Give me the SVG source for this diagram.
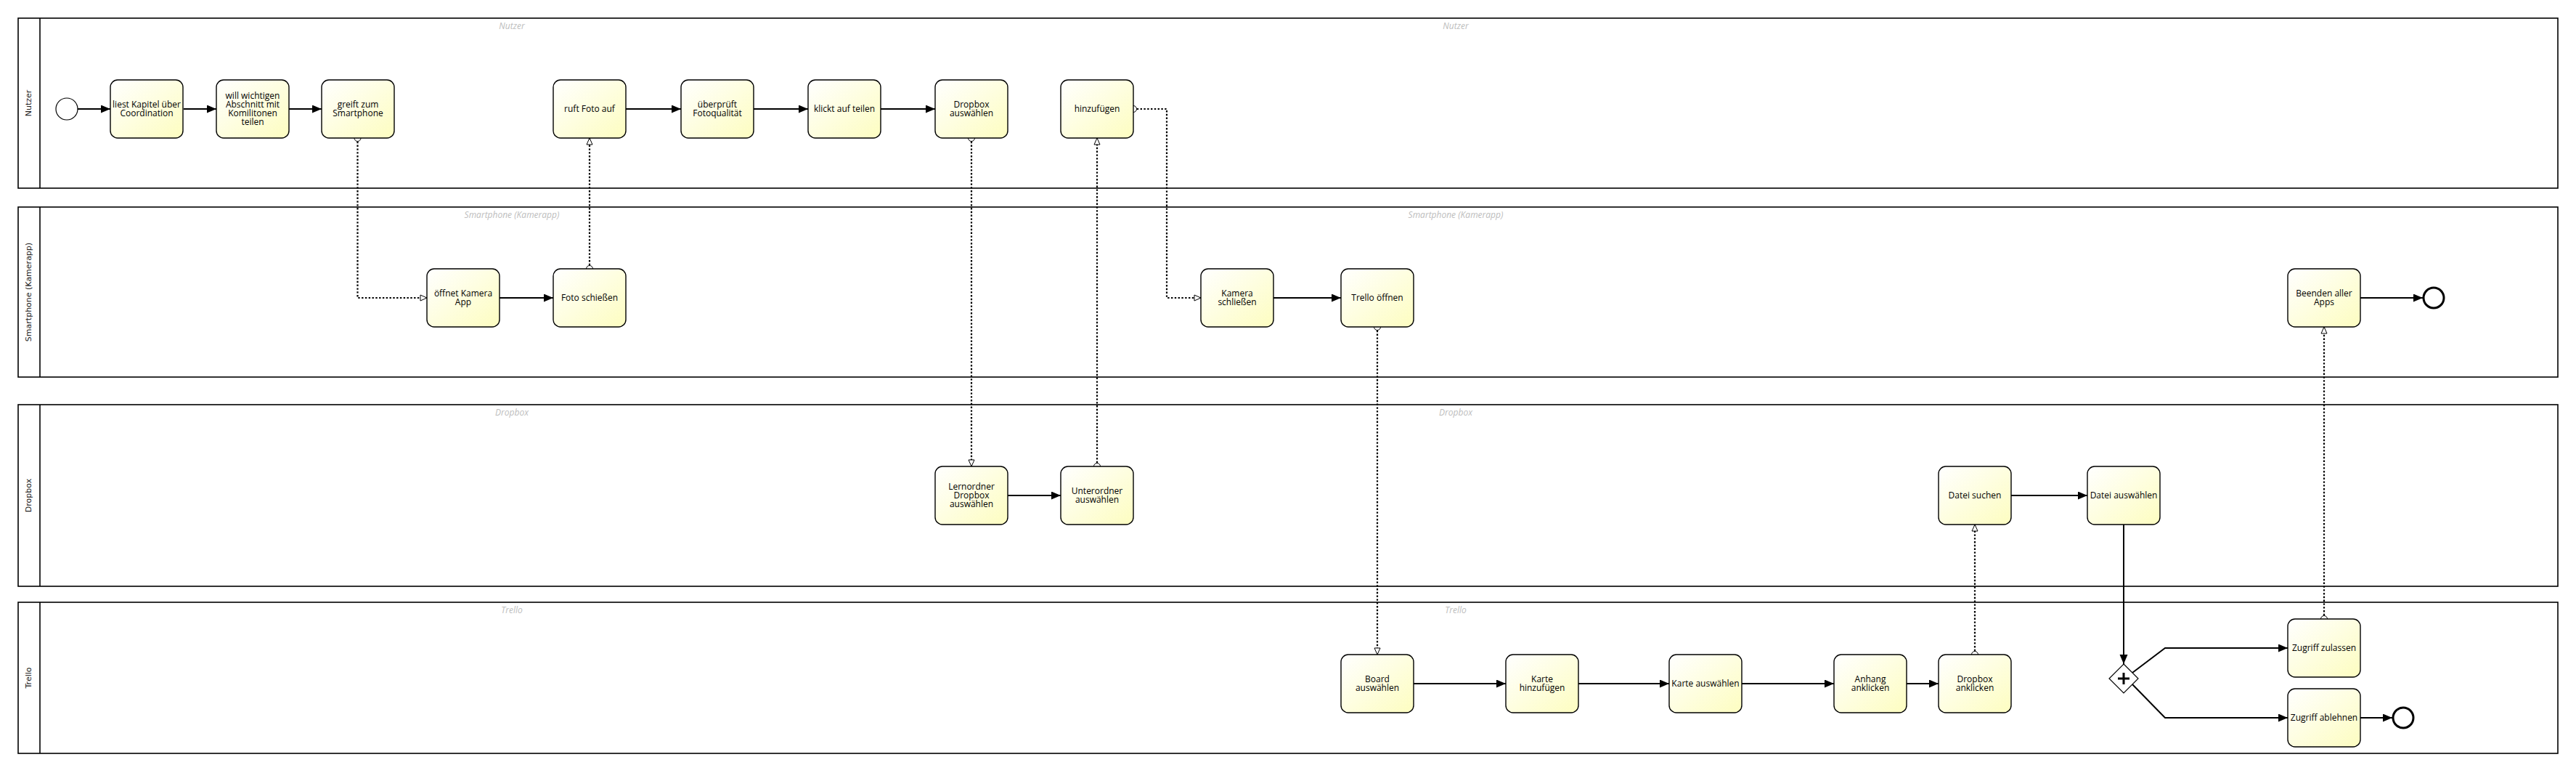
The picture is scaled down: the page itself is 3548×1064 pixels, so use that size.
<svg xmlns="http://www.w3.org/2000/svg" width="3548" height="1064" viewBox="0 0 3548 1064">
<style>
.lane{fill:none;stroke:#000;stroke-width:1.6}
.lh{font-family:"DejaVu Sans",Verdana,sans-serif;font-size:11px;fill:#222;text-anchor:middle}
.ll{font-family:"Open Sans","Liberation Sans",sans-serif;font-size:12px;font-style:italic;fill:#bdbdbd;text-anchor:middle}
.task rect{fill:url(#tg);stroke:#000;stroke-width:1.4}
.task text{font-family:"Open Sans","Liberation Sans",sans-serif;font-size:12px;fill:#000;text-anchor:middle}
.seq{fill:none;stroke:#000;stroke-width:2;marker-end:url(#ah)}
.msg{fill:none;stroke:#000;stroke-width:2.2;stroke-dasharray:2.4 2.4;marker-start:url(#mc);marker-end:url(#mt)}
</style>
<defs>
<linearGradient id="tg" x1="0" y1="0" x2="1" y2="1">
<stop offset="0" stop-color="#ffffff"/>
<stop offset="1" stop-color="#fdfdc0"/>
</linearGradient>
<marker id="ah" markerUnits="userSpaceOnUse" markerWidth="14" markerHeight="12" refX="13" refY="5.5" orient="auto">
<path d="M0,0 L13,5.5 L0,11 z" fill="#000"/>
</marker>
<marker id="mt" markerUnits="userSpaceOnUse" markerWidth="12" markerHeight="12" refX="10" refY="5" orient="auto">
<path d="M1,1 L10,5 L1,9 z" fill="#fff" stroke="#000" stroke-width="1"/>
</marker>
<marker id="mc" markerUnits="userSpaceOnUse" markerWidth="12" markerHeight="12" refX="6" refY="6" orient="auto">
<circle cx="6" cy="6" r="4.5" fill="#fff" stroke="#000" stroke-width="1"/>
</marker>
</defs>
<rect width="3548" height="1064" fill="#fff"/>

<g id="lanes">
<g id="lane-nutzer">
<rect class="lane" x="25" y="25" width="3498" height="234"/>
<line class="lane" x1="55" y1="25" x2="55" y2="259"/>
<text class="lh" transform="translate(43,142) rotate(-90)">Nutzer</text>
<text class="ll" x="705" y="40">Nutzer</text>
<text class="ll" x="2005" y="40">Nutzer</text>
</g>
<g id="lane-smartphone">
<rect class="lane" x="25" y="285" width="3498" height="234"/>
<line class="lane" x1="55" y1="285" x2="55" y2="519"/>
<text class="lh" transform="translate(43,402) rotate(-90)">Smartphone (Kamerapp)</text>
<text class="ll" x="705" y="300">Smartphone (Kamerapp)</text>
<text class="ll" x="2005" y="300">Smartphone (Kamerapp)</text>
</g>
<g id="lane-dropbox">
<rect class="lane" x="25" y="557" width="3498" height="250"/>
<line class="lane" x1="55" y1="557" x2="55" y2="807"/>
<text class="lh" transform="translate(43,682) rotate(-90)">Dropbox</text>
<text class="ll" x="705" y="572">Dropbox</text>
<text class="ll" x="2005" y="572">Dropbox</text>
</g>
<g id="lane-trello">
<rect class="lane" x="25" y="829" width="3498" height="208"/>
<line class="lane" x1="55" y1="829" x2="55" y2="1037"/>
<text class="lh" transform="translate(43,933) rotate(-90)">Trello</text>
<text class="ll" x="705" y="844">Trello</text>
<text class="ll" x="2005" y="844">Trello</text>
</g>
</g>

<g id="connectors">
<path class="seq" d="M107,150 H152"/>
<path class="seq" d="M253,150 H298"/>
<path class="seq" d="M398,150 H443"/>
<path class="seq" d="M862,150 H938"/>
<path class="seq" d="M1038,150 H1113"/>
<path class="seq" d="M1213,150 H1288"/>
<path class="seq" d="M688,410 H762"/>
<path class="seq" d="M1754,410 H1847"/>
<path class="seq" d="M3251,410 H3337"/>
<path class="seq" d="M1388,682 H1461"/>
<path class="seq" d="M2770,682 H2875"/>
<path class="seq" d="M2925,722 V914"/>
<path class="seq" d="M1947,941 H2074"/>
<path class="seq" d="M2174,941 H2299"/>
<path class="seq" d="M2399,941 H2526"/>
<path class="seq" d="M2626,941 H2670"/>
<path class="seq" d="M2937,926 L2982,892 H3151"/>
<path class="seq" d="M2937,942 L2982,988 H3151"/>
<path class="seq" d="M3251,988 H3295"/>

<path class="msg" d="M492.5,190 V410 H588"/>
<path class="msg" d="M812,370 V190"/>
<path class="msg" d="M1338,190 V642"/>
<path class="msg" d="M1511,642 V190"/>
<path class="msg" d="M1561,150 H1607 V410 H1654"/>
<path class="msg" d="M1897,450 V901"/>
<path class="msg" d="M2720,901 V722"/>
<path class="msg" d="M3201,852 V450"/>
</g>

<g id="start"><circle cx="92" cy="150" r="15" fill="#fff" stroke="#000" stroke-width="1.2"/></g>
<g id="end1"><circle cx="3352" cy="410" r="14" fill="#fff" stroke="#000" stroke-width="3"/></g>
<g id="end2"><circle cx="3310" cy="988" r="14" fill="#fff" stroke="#000" stroke-width="3"/></g>
<g id="gateway">
<path d="M2925,914 L2945,934 L2925,954 L2905,934 z" fill="#fff" stroke="#000" stroke-width="1.2"/>
<path d="M2925,926 V942 M2917,934 H2933" stroke="#000" stroke-width="3" fill="none"/>
</g>

<g id="t-liest" class="task"><rect x="152" y="110" width="100" height="80" rx="10"/><text x="202" y="148">liest Kapitel über</text><text x="202" y="160">Coordination</text></g>
<g id="t-will" class="task"><rect x="298" y="110" width="100" height="80" rx="10"/><text x="348" y="136">will wichtigen</text><text x="348" y="148">Abschnitt mit</text><text x="348" y="160">Komilitonen</text><text x="348" y="172">teilen</text></g>
<g id="t-greift" class="task"><rect x="443" y="110" width="100" height="80" rx="10"/><text x="493" y="148">greift zum</text><text x="493" y="160">Smartphone</text></g>
<g id="t-ruft" class="task"><rect x="762" y="110" width="100" height="80" rx="10"/><text x="812" y="154">ruft Foto auf</text></g>
<g id="t-ueberprueft" class="task"><rect x="938" y="110" width="100" height="80" rx="10"/><text x="988" y="148">überprüft</text><text x="988" y="160">Fotoqualität</text></g>
<g id="t-klickt" class="task"><rect x="1113" y="110" width="100" height="80" rx="10"/><text x="1163" y="154">klickt auf teilen</text></g>
<g id="t-dropbox-auswaehlen" class="task"><rect x="1288" y="110" width="100" height="80" rx="10"/><text x="1338" y="148">Dropbox</text><text x="1338" y="160">auswählen</text></g>
<g id="t-hinzufuegen" class="task"><rect x="1461" y="110" width="100" height="80" rx="10"/><text x="1511" y="154">hinzufügen</text></g>

<g id="t-oeffnet" class="task"><rect x="588" y="370" width="100" height="80" rx="10"/><text x="638" y="408">öffnet Kamera</text><text x="638" y="420">App</text></g>
<g id="t-foto" class="task"><rect x="762" y="370" width="100" height="80" rx="10"/><text x="812" y="414">Foto schießen</text></g>
<g id="t-kamera-schliessen" class="task"><rect x="1654" y="370" width="100" height="80" rx="10"/><text x="1704" y="408">Kamera</text><text x="1704" y="420">schließen</text></g>
<g id="t-trello-oeffnen" class="task"><rect x="1847" y="370" width="100" height="80" rx="10"/><text x="1897" y="414">Trello öffnen</text></g>
<g id="t-beenden" class="task"><rect x="3151" y="370" width="100" height="80" rx="10"/><text x="3201" y="408">Beenden aller</text><text x="3201" y="420">Apps</text></g>

<g id="t-lernordner" class="task"><rect x="1288" y="642" width="100" height="80" rx="10"/><text x="1338" y="674">Lernordner</text><text x="1338" y="686">Dropbox</text><text x="1338" y="698">auswählen</text></g>
<g id="t-unterordner" class="task"><rect x="1461" y="642" width="100" height="80" rx="10"/><text x="1511" y="680">Unterordner</text><text x="1511" y="692">auswählen</text></g>
<g id="t-datei-suchen" class="task"><rect x="2670" y="642" width="100" height="80" rx="10"/><text x="2720" y="686">Datei suchen</text></g>
<g id="t-datei-auswaehlen" class="task"><rect x="2875" y="642" width="100" height="80" rx="10"/><text x="2925" y="686">Datei auswählen</text></g>

<g id="t-board" class="task"><rect x="1847" y="901" width="100" height="80" rx="10"/><text x="1897" y="939">Board</text><text x="1897" y="951">auswählen</text></g>
<g id="t-karte-hinzufuegen" class="task"><rect x="2074" y="901" width="100" height="80" rx="10"/><text x="2124" y="939">Karte</text><text x="2124" y="951">hinzufügen</text></g>
<g id="t-karte-auswaehlen" class="task"><rect x="2299" y="901" width="100" height="80" rx="10"/><text x="2349" y="945">Karte auswählen</text></g>
<g id="t-anhang" class="task"><rect x="2526" y="901" width="100" height="80" rx="10"/><text x="2576" y="939">Anhang</text><text x="2576" y="951">anklicken</text></g>
<g id="t-dropbox-anklicken" class="task"><rect x="2670" y="901" width="100" height="80" rx="10"/><text x="2720" y="939">Dropbox</text><text x="2720" y="951">anklicken</text></g>
<g id="t-zugriff-zulassen" class="task"><rect x="3151" y="852" width="100" height="80" rx="10"/><text x="3201" y="896">Zugriff zulassen</text></g>
<g id="t-zugriff-ablehnen" class="task"><rect x="3151" y="948" width="100" height="80" rx="10"/><text x="3201" y="992">Zugriff ablehnen</text></g>
</svg>
